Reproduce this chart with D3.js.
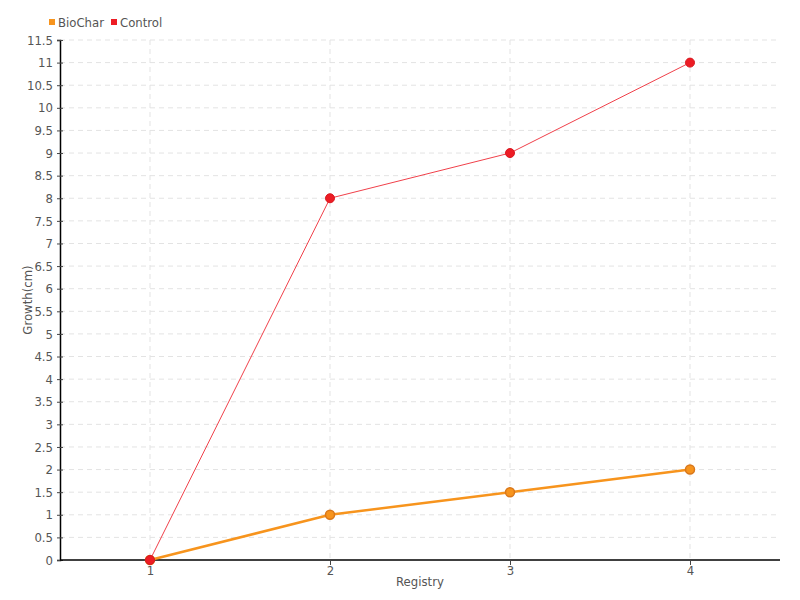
<!DOCTYPE html>
<html>
<head>
<meta charset="utf-8">
<script src="https://cdn.jsdelivr.net/npm/d3@7"></script>
<style>
  body { margin: 0; background: #fff; }
  svg text { font-family: "DejaVu Sans", sans-serif; font-stretch: condensed; fill: #555; }
</style>
</head>
<body>
<svg id="chart" width="800" height="600"></svg>
<script>
(function () {
    'use strict';

    var registry = [1, 2, 3, 4];
    var biochar = [0, 1, 1.5, 2];
    var control = [0, 8, 9, 11];
    var seriesNames = ["BioChar", "Control"];
    var seriesColors = ["#f7941d", "#ed1c24"];

    var svg = d3.select("#chart");
    var left = 60, right = 780, top = 40, bottom = 560;
    var font = '"DejaVu Sans", sans-serif';

    var x = d3.scaleLinear().domain([0.5, 4.5]).range([left, right]);
    var y = d3.scaleLinear().domain([0, 11.5]).range([bottom, top]);
    var yTicks = d3.range(0, 11.51, 0.5);

    // grid
    var grid = svg.append("g");
    grid.selectAll("line.h").data(yTicks.filter(d => d > 0)).enter().append("line")
        .attr("x1", left).attr("x2", right)
        .attr("y1", d => y(d)).attr("y2", d => y(d))
        .style("stroke", "#e3e3e3").style("stroke-dasharray", "5,4");
    grid.selectAll("line.v").data(registry).enter().append("line")
        .attr("x1", d => x(d)).attr("x2", d => x(d))
        .attr("y1", top).attr("y2", bottom)
        .style("stroke", "#e3e3e3").style("stroke-dasharray", "5,4");

    // axes
    var yAxis = svg.append("g").attr("transform", "translate(" + left + ",0)")
        .call(d3.axisLeft(y).tickValues(yTicks).tickSize(3).tickPadding(4)
            .tickFormat(d => String(d)));
    yAxis.selectAll(".tick line").attr("x1", -3).attr("x2", 3);
    var xAxis = svg.append("g").attr("transform", "translate(0," + bottom + ")")
        .call(d3.axisBottom(x).tickValues(registry).tickSize(5).tickPadding(1)
            .tickFormat(d3.format("d")));
    [yAxis, xAxis].forEach(function (a) {
        a.select(".domain").style("stroke", "#000").style("stroke-width", 1.5);
        a.selectAll(".tick line").style("stroke", "#444");
        a.selectAll("text").style("font-size", "13px").style("fill", "#555")
            .style("font-family", font).style("font-stretch", "condensed");
    });
    xAxis.select(".domain").attr("d", "M" + left + ",0H" + right);

    svg.append("text").attr("x", (left + right) / 2).attr("y", 586)
        .attr("text-anchor", "middle").style("font-size", "13px").text("Registry");
    svg.append("text").attr("transform", "translate(32," + (top + bottom) / 2 + ") rotate(-90)")
        .attr("text-anchor", "middle").style("font-size", "13px").text("Growth(cm)");

    // lines
    var line = d3.line().x((d, i) => x(registry[i])).y(d => y(d));
    svg.append("path").datum(biochar).attr("d", line)
        .style("fill", "none").style("stroke", seriesColors[0]).style("stroke-width", 2.5);
    svg.selectAll("circle.b").data(biochar).enter().append("circle")
        .attr("cx", (d, i) => x(registry[i])).attr("cy", d => y(d)).attr("r", 4.5)
        .style("fill", seriesColors[0]).style("stroke", "#d9771a").style("stroke-width", 1.5);
    svg.append("path").datum(control).attr("d", line)
        .style("fill", "none").style("stroke", "#f0404a").style("stroke-width", 1);
    svg.selectAll("circle.c").data(control).enter().append("circle")
        .attr("cx", (d, i) => x(registry[i])).attr("cy", d => y(d)).attr("r", 4.5)
        .style("fill", seriesColors[1]).style("stroke", "#d81820").style("stroke-width", 1);

    // legend
    var legX = [49, 111];
    var leg = svg.selectAll("g.leg").data(seriesNames).enter().append("g")
        .attr("transform", (d, i) => "translate(" + legX[i] + ",22)");
    leg.append("rect").attr("x", 0).attr("y", -3).attr("width", 6).attr("height", 6)
        .style("fill", (d, i) => seriesColors[i]);
    leg.append("text").attr("x", 9).attr("y", 5).style("font-size", "13px").text(d => d);
}());
</script>
</body>
</html>
